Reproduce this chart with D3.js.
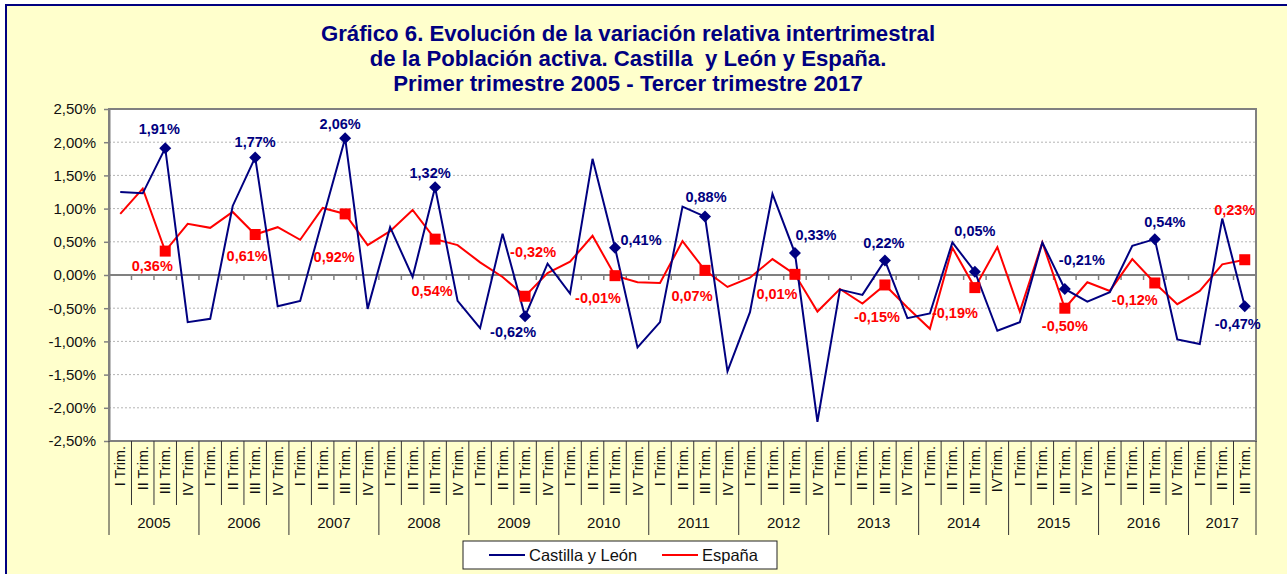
<!DOCTYPE html>
<html>
<head>
<meta charset="utf-8">
<script src="https://cdn.jsdelivr.net/npm/d3@7/dist/d3.min.js"></script>
<style>
    body { margin: 0; background: #ffffff; }
    text { font-family: "Liberation Sans", Arial, sans-serif; }
    .figtitle { font-weight: bold; font-size: 22.2px; fill: #000080; text-anchor: middle; white-space: pre; }
    .ytext { font-size: 15px; fill: #111111; }
    .xtext { font-size: 14.5px; fill: #111111; }
    .yeartext { font-size: 15px; fill: #111111; text-anchor: middle; }
    .grid { stroke: #b4b4b4; stroke-width: 1; stroke-dasharray: 2,2; }
    .line { fill: none; stroke-width: 2; stroke-linejoin: miter; }
    .lbl { font-weight: bold; font-size: 14.5px; text-anchor: middle; }
    .legtext { font-size: 16.5px; fill: #111111; }
</style>
</head>
<body>
<script>
// ---- data ----
const titleLines = [
    "Gráfico 6. Evolución de la variación relativa intertrimestral",
    "de la Población activa. Castilla  y León y España.",
    "Primer trimestre 2005 - Tercer trimestre 2017"
];

const years = ["2005", "2006", "2007", "2008", "2009", "2010", "2011",
               "2012", "2013", "2014", "2015", "2016", "2017"];

const quarterLabels = [
    "I Trim.", "II Trim.", "III Trim.", "IV Trim.",   // 2005
    "I Trim.", "II Trim.", "III Trim.", "IV Trim.",   // 2006
    "I Trim.", "II Trim.", "III Trim.", "IV Trim.",   // 2007
    "I Trim.", "II Trim.", "III Trim.", "IV Trim.",   // 2008
    "I Trim.", "II Trim.", "III Trim.", "IV Trim.",   // 2009
    "I Trim.", "II Trim.", "III Trim.", "IV Trim.",   // 2010
    "I Trim.", "II Trim.", "III Trim.", "IV Trim.",   // 2011
    "I Trim.", "II Trim.", "III Trim.", "IV Trim.",   // 2012
    "I Trim.", "II Trim.", "III Trim.", "IV Trim.",   // 2013
    "I Trim.", "II Trim.", "III Trim.", "IVTrim.",    // 2014
    "I Trim.", "II Trim.", "III Trim.", "IV Trim.",   // 2015
    "I Trim.", "II Trim.", "III Trim.", "IV Trim.",   // 2016
    "I Trim.", "II Trim.", "III Trim."                // 2017
];

const castillaLeon = [
     1.25,  1.23,  1.91, -0.71,
    -0.66,  1.04,  1.77, -0.47,
    -0.39,  0.84,  2.06, -0.51,
     0.72, -0.03,  1.32, -0.39,
    -0.80,  0.62, -0.62,  0.17,
    -0.28,  1.75,  0.41, -1.09,
    -0.71,  1.03,  0.88, -1.45,
    -0.56,  1.22,  0.33, -2.21,
    -0.22, -0.30,  0.22, -0.65,
    -0.58,  0.49,  0.05, -0.84,
    -0.71,  0.49, -0.21, -0.40,
    -0.26,  0.44,  0.54, -0.97,
    -1.04,  0.85, -0.47
];

const espana = [
     0.92,  1.30,  0.36,  0.77,
     0.71,  0.95,  0.61,  0.72,
     0.53,  1.01,  0.92,  0.45,
     0.66,  0.98,  0.54,  0.45,
     0.19, -0.03, -0.32,  0.03,
     0.20,  0.59, -0.01, -0.11,
    -0.12,  0.51,  0.07, -0.18,
    -0.04,  0.24,  0.01, -0.55,
    -0.21, -0.43, -0.15, -0.49,
    -0.81,  0.41, -0.19,  0.42,
    -0.55,  0.49, -0.50, -0.11,
    -0.24,  0.24, -0.12, -0.44,
    -0.24,  0.16,  0.23
];

const yTicks = [-2.5, -2, -1.5, -1, -0.5, 0, 0.5, 1, 1.5, 2, 2.5];
const seriesNames = ["Castilla y León", "España"];

// label placement (offset from marker) for the III Trim. points
const offsetsCyL = [[-6,-19], [0,-16], [-5,-14], [-5,-14], [-12,16], [26,-8], [1,-20],
                    [21,-18], [-1,-17], [0,-41], [17,-29], [10,-17], [-7,18]];
const offsetsEsp = [[-13,15], [-8,21], [-11,43], [-3,52], [8,-44], [-17,22], [-13,26],
                    [-18,20], [-8,32], [-20,25], [0,18], [-20,17], [-10,-50]];

// ---- layout ----
const dims = {
    width: 1287, height: 574,
    frame: {x: 6, y: 5},
    plot: {left: 109, top: 109, right: 1256, bottom: 441},
    title: {x: 628, y: 33, step: 25},
    cat: {top: 446, sepBottom: 505, yearBottom: 535, yearY: 523},
    legend: {x: 463, y: 541, width: 314, height: 28}
};

const colors = {cyl: "#000080", esp: "#ff0000", axis: "#808080", bg: "#ffffcc"};

const loc = d3.formatLocale({decimal: ",", thousands: ".", grouping: [3],
                             currency: ["", "€"], minus: "-"});
const fmt = loc.format(".2f");

const svg = d3.select("body").append("svg")
    .attr("width", dims.width)
    .attr("height", dims.height);

// chart area background + frame
svg.append("rect")
    .attr("x", dims.frame.x).attr("y", dims.frame.y)
    .attr("width", dims.width + 10).attr("height", dims.height + 10)
    .attr("fill", colors.bg)
    .attr("stroke", colors.cyl).attr("stroke-width", 2);

// title
svg.append("g").selectAll("text")
    .data(titleLines)
    .enter().append("text")
    .classed("figtitle", true)
    .attr("x", dims.title.x)
    .attr("y", (d, i) => dims.title.y + i * dims.title.step)
    .attr("dy", "0.35em")
    .text(d => d);

// scales
const x = d3.scaleBand()
    .domain(d3.range(quarterLabels.length))
    .range([dims.plot.left, dims.plot.right])
    .padding(0);
const cx = i => x(i) + x.bandwidth() / 2;

const y = d3.scaleLinear()
    .domain([-2.5, 2.5])
    .range([dims.plot.bottom, dims.plot.top]);

// plot background
svg.append("rect")
    .attr("x", dims.plot.left).attr("y", dims.plot.top)
    .attr("width", dims.plot.right - dims.plot.left)
    .attr("height", dims.plot.bottom - dims.plot.top)
    .attr("fill", "#ffffff");

// gridlines
svg.append("g").selectAll("line")
    .data(yTicks.filter(d => d !== 0 && Math.abs(d) !== 2.5))
    .enter().append("line")
    .classed("grid", true)
    .attr("x1", dims.plot.left).attr("x2", dims.plot.right)
    .attr("y1", d => y(d)).attr("y2", d => y(d));

// plot border
svg.append("rect")
    .attr("x", dims.plot.left).attr("y", dims.plot.top)
    .attr("width", dims.plot.right - dims.plot.left)
    .attr("height", dims.plot.bottom - dims.plot.top)
    .attr("fill", "none")
    .attr("stroke", colors.axis).attr("stroke-width", 2);

// y axis
const yAxis = svg.append("g")
    .attr("id", "yaxis")
    .attr("transform", "translate(" + dims.plot.left + ",0)")
    .call(d3.axisLeft(y).tickValues(yTicks).tickSize(5).tickPadding(8)
          .tickSizeOuter(0).tickFormat(d => fmt(d) + "%"));
yAxis.select(".domain").attr("stroke", colors.axis).attr("stroke-width", 2);
yAxis.selectAll(".tick line").attr("stroke", colors.axis).attr("stroke-width", 1.5);
yAxis.selectAll(".tick text").attr("class", "ytext").attr("fill", null);

// zero line with ticks
const boundaries = d3.range(quarterLabels.length + 1)
    .map(i => dims.plot.left + i * x.bandwidth());
svg.append("line")
    .attr("x1", dims.plot.left).attr("x2", dims.plot.right)
    .attr("y1", y(0)).attr("y2", y(0))
    .attr("stroke", colors.axis).attr("stroke-width", 2);
svg.append("g").selectAll("line")
    .data(boundaries)
    .enter().append("line")
    .attr("x1", d => d).attr("x2", d => d)
    .attr("y1", y(0)).attr("y2", y(0) + 5)
    .attr("stroke", colors.axis).attr("stroke-width", 1.5);

// category axis: separators, quarter labels, years
const isYearEdge = i => i % 4 === 0 || i === quarterLabels.length;
svg.append("g").selectAll("line")
    .data(boundaries)
    .enter().append("line")
    .attr("x1", d => d).attr("x2", d => d)
    .attr("y1", dims.plot.bottom)
    .attr("y2", (d, i) => isYearEdge(i) ? dims.cat.yearBottom : dims.cat.sepBottom)
    .attr("stroke", "#333333").attr("stroke-width", 1);

svg.append("g").selectAll("text")
    .data(quarterLabels)
    .enter().append("text")
    .classed("xtext", true)
    .attr("text-anchor", "end")
    .attr("dy", "0.35em")
    .attr("transform", (d, i) => "translate(" + cx(i) + "," + dims.cat.top + ") rotate(-90)")
    .text(d => d);

svg.append("g").selectAll("text")
    .data(years)
    .enter().append("text")
    .classed("yeartext", true)
    .attr("x", (d, i) => {
        const a = i * 4, b = Math.min(a + 4, quarterLabels.length);
        return (boundaries[a] + boundaries[b]) / 2;
    })
    .attr("y", dims.cat.yearY)
    .attr("dy", "0.35em")
    .text(d => d);

// lines
const myLine = d3.line()
    .x((d, i) => cx(i))
    .y(d => y(d));

svg.append("path")
    .datum(espana)
    .classed("line", true)
    .attr("stroke", colors.esp)
    .attr("d", myLine);

svg.append("path")
    .datum(castillaLeon)
    .classed("line", true)
    .attr("stroke", colors.cyl)
    .attr("d", myLine);

// markers on III Trim. points
const marked = d3.range(quarterLabels.length).filter(i => i % 4 === 2);

svg.append("g").selectAll("path")
    .data(marked)
    .enter().append("path")
    .attr("d", "M0,-6L6,0L0,6L-6,0Z")
    .attr("fill", colors.cyl)
    .attr("transform", i => "translate(" + cx(i) + "," + y(castillaLeon[i]) + ")");

svg.append("g").selectAll("rect")
    .data(marked)
    .enter().append("rect")
    .attr("x", i => cx(i) - 5.5)
    .attr("y", i => y(espana[i]) - 5.5)
    .attr("width", 11).attr("height", 11)
    .attr("fill", colors.esp);

// data labels
function addLabels(values, offsets, color) {
    svg.append("g").selectAll("text")
        .data(marked)
        .enter().append("text")
        .classed("lbl", true)
        .attr("fill", color)
        .attr("x", (i, k) => cx(i) + offsets[k][0])
        .attr("y", (i, k) => y(values[i]) + offsets[k][1])
        .attr("dy", "0.35em")
        .text(i => fmt(values[i]) + "%");
}
addLabels(castillaLeon, offsetsCyL, colors.cyl);
addLabels(espana, offsetsEsp, colors.esp);

// legend
const leg = svg.append("g")
    .attr("transform", "translate(" + dims.legend.x + "," + dims.legend.y + ")");
leg.append("rect")
    .attr("width", dims.legend.width).attr("height", dims.legend.height)
    .attr("fill", "#ffffff").attr("stroke", "#222222").attr("stroke-width", 1);

const legItems = [
    {name: seriesNames[0], color: colors.cyl, x: 26},
    {name: seriesNames[1], color: colors.esp, x: 199}
];
legItems.forEach(d => {
    leg.append("line")
        .attr("x1", d.x).attr("x2", d.x + 36)
        .attr("y1", dims.legend.height / 2).attr("y2", dims.legend.height / 2)
        .attr("stroke", d.color).attr("stroke-width", 2);
    leg.append("text")
        .classed("legtext", true)
        .attr("x", d.x + 40)
        .attr("y", dims.legend.height / 2)
        .attr("dy", "0.35em")
        .text(d.name);
});
</script>
</body>
</html>
